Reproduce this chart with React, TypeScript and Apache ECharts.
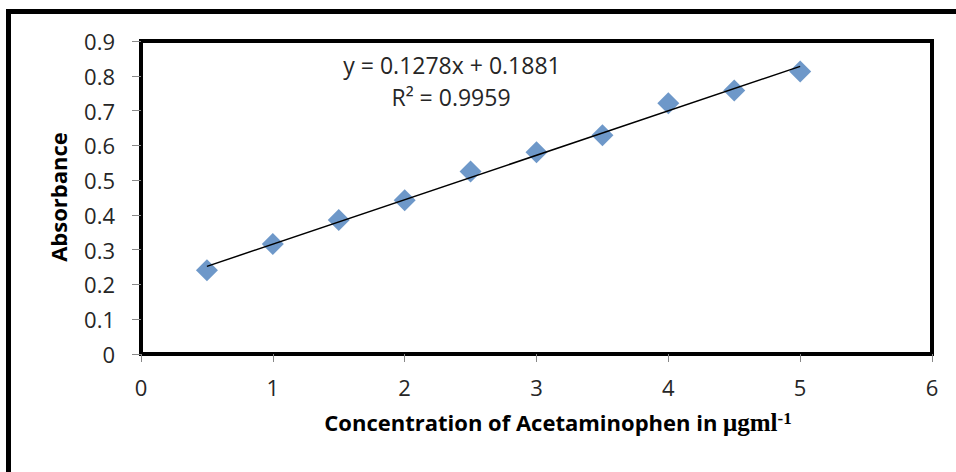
import React, { useEffect, useRef } from "react";
import * as echarts from "echarts";

const concentrations = [0.5, 1, 1.5, 2, 2.5, 3, 3.5, 4, 4.5, 5];
const absorbance = [0.241, 0.316, 0.385, 0.442, 0.525, 0.58, 0.629, 0.721, 0.758, 0.812];
const trendX = [0.5, 5];
const trendY = [0.252, 0.827];
const equationText = "y = 0.1278x + 0.1881";
const r2Text = "R² = 0.9959";
const xTitle = "Concentration of Acetaminophen in ";
const xTitleUnit = "μgml";
const xTitleSup = "-1";
const yTitle = "Absorbance";

export default function App() {
  const ref = useRef<HTMLDivElement>(null);
  useEffect(() => {
    document.body.style.margin = "0";
    const chart = echarts.init(ref.current!, null, { renderer: "svg" });
    const font = "'Open Sans', sans-serif";
    chart.setOption({
      animation: false,
      backgroundColor: "#fff",
      grid: {
        left: 141,
        right: 24,
        top: 41,
        bottom: 118,
        show: true,
        borderColor: "#000",
        borderWidth: 4,
        backgroundColor: "transparent",
      },
      xAxis: {
        type: "value",
        min: 0,
        max: 6,
        interval: 1,
        splitLine: { show: false },
        axisLine: { show: false },
        axisTick: { show: true, length: 8, lineStyle: { color: "#888", width: 1 } },
        axisLabel: { color: "#262626", fontSize: 22, fontFamily: font, margin: 22 },
      },
      yAxis: {
        type: "value",
        min: 0,
        max: 0.9,
        interval: 0.1,
        splitLine: { show: false },
        axisLine: { show: false },
        axisTick: { show: true, length: 9, lineStyle: { color: "#888", width: 1 } },
        axisLabel: {
          color: "#262626",
          fontSize: 22,
          fontFamily: font,
          margin: 26,
          formatter: (v: number) => (v === 0 ? "0" : v.toFixed(1)),
        },
      },
      series: [
        {
          type: "scatter",
          data: concentrations.map((x, i) => [x, absorbance[i]]),
          symbol: "diamond",
          symbolSize: 22,
          itemStyle: { color: "#4A7EBB" },
          z: 2,
        },
        {
          type: "line",
          data: trendX.map((x, i) => [x, trendY[i]]),
          symbol: "none",
          lineStyle: { color: "#000", width: 1.5 },
          z: 3,
        },
      ],
      graphic: [
        {
          type: "rect",
          shape: { x: 8.5, y: 11.5, width: 1000, height: 600 },
          style: { fill: "transparent", stroke: "#000", lineWidth: 5 },
          silent: true,
        },
        {
          type: "text",
          x: 452,
          y: 65,
          style: {
            text: equationText,
            fill: "#262626",
            font: `23px ${font}`,
            align: "center",
            verticalAlign: "middle",
          },
        },
        {
          type: "text",
          x: 451,
          y: 97,
          style: {
            text: r2Text,
            fill: "#262626",
            font: `23px ${font}`,
            align: "center",
            verticalAlign: "middle",
          },
        },
        {
          type: "text",
          x: 58,
          y: 197,
          rotation: Math.PI / 2,
          style: {
            text: yTitle,
            fill: "#000",
            font: `bold 22px ${font}`,
            align: "center",
            verticalAlign: "middle",
          },
        },
        {
          type: "text",
          x: 558,
          y: 422,
          style: {
            text: `{a|${xTitle}}{b|${xTitleUnit}}{c|${xTitleSup}}`,
            align: "center",
            verticalAlign: "middle",
            rich: {
              a: { fontFamily: font, fontWeight: "bold", fontSize: 22, color: "#000" },
              b: { fontFamily: "'Liberation Serif', serif", fontWeight: "bold", fontSize: 25, color: "#000" },
              c: { fontFamily: "'Liberation Serif', serif", fontWeight: "bold", fontSize: 17, color: "#000", verticalAlign: "top" },
            },
          },
        },
      ],
    });
    return () => chart.dispose();
  }, []);
  return <div ref={ref} style={{ position: "absolute", left: 0, top: 0, width: 956, height: 472 }} />;
}
